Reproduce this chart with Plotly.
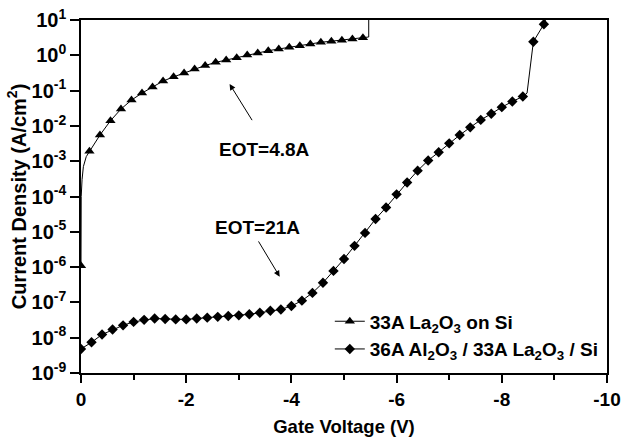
import plotly.graph_objects as go

# ---------------- data ----------------
# 33A La2O3 on Si  (triangles); flag = 1 where a marker is drawn
la_v = [0, -0.004, -0.02, -0.045, -0.10,
        -0.16, -0.36, -0.56, -0.76, -0.96, -1.16, -1.36, -1.56, -1.76, -1.96,
        -2.16, -2.36, -2.56, -2.76, -2.96, -3.16, -3.36, -3.56, -3.76, -3.96,
        -4.16, -4.36, -4.56, -4.76, -4.96, -5.16, -5.36,
        -5.47, -5.47]
la_j = [1.1e-6, 1.0e-4, 3.0e-4, 7.0e-4, 1.35e-3,
        1.9e-3, 5.5e-3, 1.4e-2, 3.0e-2, 5.4e-2, 8.5e-2, 0.126, 0.186, 0.245, 0.316,
        0.407, 0.513, 0.631, 0.741, 0.851, 1.02, 1.17, 1.35, 1.51, 1.70,
        1.86, 2.09, 2.34, 2.51, 2.69, 2.88, 3.16,
        3.3, 100.0]
la_mark = [1, 0, 0, 0, 0] + [1] * 27 + [0, 0]

# 36A Al2O3 / 33A La2O3 / Si  (diamonds)
al_v = [0, -0.2, -0.4, -0.6, -0.8, -1.0, -1.2, -1.4, -1.6, -1.8,
        -2.0, -2.2, -2.4, -2.6, -2.8, -3.0, -3.2, -3.4, -3.6, -3.8,
        -4.0, -4.2, -4.4, -4.6, -4.8, -5.0, -5.2, -5.4, -5.6, -5.8,
        -6.0, -6.2, -6.4, -6.6, -6.8, -7.0, -7.2, -7.4, -7.6, -7.8,
        -8.0, -8.2, -8.4, -8.48, -8.6, -8.8, -8.95]
al_j = [4.8e-9, 7.4e-9, 1.23e-8, 1.7e-8, 2.24e-8, 2.8e-8, 3.2e-8, 3.5e-8, 3.4e-8, 3.3e-8,
        3.3e-8, 3.5e-8, 3.7e-8, 3.9e-8, 4.1e-8, 4.3e-8, 4.6e-8, 5.1e-8, 5.8e-8, 6.3e-8,
        7.9e-8, 1.12e-7, 1.86e-7, 3.6e-7, 7.8e-7, 1.7e-6, 4.0e-6, 9.3e-6, 2.3e-5, 4.9e-5,
        1.15e-4, 2.5e-4, 5.4e-4, 1.05e-3, 1.8e-3, 3.2e-3, 5.5e-3, 9.1e-3, 1.48e-2, 2.2e-2,
        3.4e-2, 4.9e-2, 6.8e-2, 8.5e-2, 2.43, 7.6, 30.0]
al_mark = [1] * 43 + [0, 1, 1, 0]

series_names = ["<b>33A La<sub>2</sub>O<sub>3</sub> on Si</b>",
                "<b>36A Al<sub>2</sub>O<sub>3</sub> / 33A La<sub>2</sub>O<sub>3</sub> / Si</b>"]

x_tickvals = [0, -2, -4, -6, -8, -10]
x_ticktext = ["<b>0</b>", "<b>-2</b>", "<b>-4</b>", "<b>-6</b>", "<b>-8</b>", "<b>-10</b>"]
y_tickvals = [1e1, 1e0, 1e-1, 1e-2, 1e-3, 1e-4, 1e-5, 1e-6, 1e-7, 1e-8, 1e-9]
y_ticktext = ["<b>10<sup>1</sup></b>", "<b>10<sup>0</sup></b>", "<b>10<sup>-1</sup></b>",
              "<b>10<sup>-2</sup></b>", "<b>10<sup>-3</sup></b>", "<b>10<sup>-4</sup></b>",
              "<b>10<sup>-5</sup></b>", "<b>10<sup>-6</sup></b>", "<b>10<sup>-7</sup></b>",
              "<b>10<sup>-8</sup></b>", "<b>10<sup>-9</sup></b>"]

# ---------------- figure ----------------
FONT = "Liberation Sans, Arial, sans-serif"
fig = go.Figure()

symbols = ["triangle-up", "diamond"]
msizes = [9, 8]
for v, j, m, sym, ms in [(la_v, la_j, la_mark, symbols[0], msizes[0]),
                          (al_v, al_j, al_mark, symbols[1], msizes[1])]:
    fig.add_trace(go.Scatter(x=v, y=j, mode="lines", line=dict(color="black", width=1),
                             showlegend=False, hoverinfo="skip"))
    fig.add_trace(go.Scatter(x=[a for a, k in zip(v, m) if k],
                             y=[b for b, k in zip(j, m) if k],
                             mode="markers", showlegend=False,
                             marker=dict(symbol=sym, size=ms, color="black")))

for name, sym, ms in zip(series_names, symbols, msizes):
    fig.add_trace(go.Scatter(x=[None], y=[None], mode="lines+markers", name=name,
                             line=dict(color="black", width=1),
                             marker=dict(symbol=sym, size=ms, color="black")))

axis_common = dict(showline=True, linecolor="black", linewidth=1.5, mirror=True,
                   showgrid=False, zeroline=False, ticks="outside", tickcolor="black",
                   tickwidth=1.5, automargin=False, ticklabeloverflow="allow")

fig.update_xaxes(range=[0, -10], tickvals=x_tickvals, ticktext=x_ticktext, ticklen=8,
                 tickfont=dict(family=FONT, size=19, color="black"),
                 minor=dict(dtick=1, ticklen=5, ticks="outside", tickcolor="black", tickwidth=1.5),
                 title=dict(text="<b>Gate Voltage (V)</b>", standoff=12,
                            font=dict(family=FONT, size=18.5, color="black")),
                 **axis_common)
fig.update_yaxes(type="log", range=[-9, 1], tickvals=y_tickvals, ticktext=y_ticktext,
                 ticklen=9, tickfont=dict(family=FONT, size=20, color="black"),
                 title=dict(text="<b>Current Density (A/cm<sup>2</sup>)</b>", standoff=0,
                            font=dict(family=FONT, size=20, color="black")),
                 **axis_common)

ann_font = dict(family=FONT, size=19, color="black")
fig.add_annotation(x=-3.49, y=-2.68, text="<b>EOT=4.8A</b>", showarrow=False, font=ann_font)
fig.add_annotation(x=-3.35, y=-4.88, text="<b>EOT=21A</b>", showarrow=False, font=ann_font)
fig.add_annotation(x=-2.825, y=-0.813, ax=-3.27, ay=-1.88, axref="x", ayref="y",
                   text="", showarrow=True, arrowhead=2, arrowsize=1.2, arrowwidth=1,
                   arrowcolor="black")
fig.add_annotation(x=-3.777, y=-6.27, ax=-3.358, ay=-5.23, axref="x", ayref="y",
                   text="", showarrow=True, arrowhead=2, arrowsize=1.2, arrowwidth=1,
                   arrowcolor="black")

fig.update_layout(width=624, height=442,
                  margin=dict(l=81, r=17, t=20, b=69),
                  paper_bgcolor="white", plot_bgcolor="white",
                  showlegend=True,
                  legend=dict(x=0.473, y=0.2, xanchor="left", yanchor="top",
                              bgcolor="rgba(0,0,0,0)", borderwidth=0,
                              font=dict(family=FONT, size=19, color="black"),
                              tracegroupgap=0))

# remove the page's default 8 px body margin so the figure fills the window exactly
fig.write_html("out.html",
               config={"displayModeBar": False},
               post_script="document.body.style.margin='0px';"
                           "document.body.style.overflow='hidden';")
